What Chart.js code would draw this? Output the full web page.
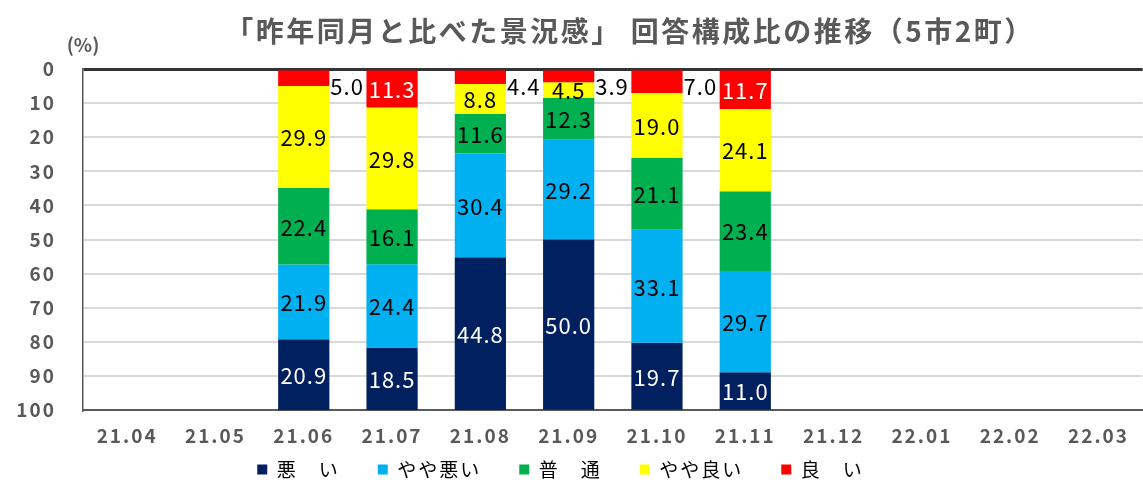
<!DOCTYPE html>
<html>
<head>
<meta charset="utf-8">
<script src="https://cdn.jsdelivr.net/npm/chart.js@4/dist/chart.umd.min.js"></script>
<style>
  html, body { margin: 0; padding: 0; background: #fff; }
  #wrap { width: 1143px; height: 485px; }
</style>
</head>
<body>
<div id="wrap"><canvas id="c"></canvas></div>
<script>
// months on the x axis
let months = ["21.04", "21.05", "21.06", "21.07", "21.08", "21.09", "21.10", "21.11", "21.12", "22.01", "22.02", "22.03"];

// answer shares (%) per month, null = no survey yet
let good     = [null, null, 5.0, 11.3, 4.4, 3.9, 7.0, 11.7, null, null, null, null];
let ratherGd = [null, null, 29.9, 29.8, 8.8, 4.5, 19.0, 24.1, null, null, null, null];
let normal   = [null, null, 22.4, 16.1, 11.6, 12.3, 21.1, 23.4, null, null, null, null];
let ratherBd = [null, null, 21.9, 24.4, 30.4, 29.2, 33.1, 29.7, null, null, null, null];
let bad      = [null, null, 20.9, 18.5, 44.8, 50.0, 19.7, 11.0, null, null, null, null];

let yTicks = [0, 10, 20, 30, 40, 50, 60, 70, 80, 90, 100];

let titleText = "「昨年同月と比べた景況感」 回答構成比の推移（5市2町）";

const GRAY = "#595959";

//! wider letter spacing for ticks and legend, like the original
const spacing = {
  id: "spacing",
  beforeLayout(chart) { chart.ctx.letterSpacing = "2px"; },
  beforeDraw(chart) { chart.ctx.letterSpacing = "2px"; }
};

//! labels on the bars, small "good" values go outside right
const barLabels = {
  id: "barLabels",
  afterDatasetsDraw(chart) {
    const ctx = chart.ctx;
    ctx.save();
    ctx.font = "22px 'Noto Sans CJK JP'";
    ctx.letterSpacing = "1px";
    ctx.textBaseline = "middle";
    chart.data.datasets.forEach((ds, i) => {
      const meta = chart.getDatasetMeta(i);
      meta.data.forEach((el, j) => {
        const v = ds.data[j];
        if (v === null) return;
        const txt = v.toFixed(1);
        const top = Math.min(el.y, el.base);
        const mid = (el.y + el.base) / 2;
        if (i === 0 && v < 10) {
          ctx.fillStyle = "#000";
          ctx.textAlign = "left";
          ctx.fillText(txt, el.x + el.width / 2 + 1, top + 16);
        } else {
          ctx.fillStyle = ds.labelColor;
          ctx.textAlign = "center";
          ctx.fillText(txt, el.x, mid + 1);
        }
      });
    });
    ctx.restore();
  }
};

//! title and unit text
const headText = {
  id: "headText",
  afterDraw(chart) {
    const ctx = chart.ctx;
    ctx.save();
    ctx.fillStyle = GRAY;
    ctx.textBaseline = "middle";
    ctx.textAlign = "center";
    ctx.font = "bold 28px 'Noto Sans CJK JP'";
    ctx.letterSpacing = "2.5px";
    ctx.fillText(titleText, 630, 31);
    ctx.font = "bold 19px 'Noto Sans CJK JP'";
    ctx.letterSpacing = "0px";
    ctx.fillText("(%)", chart.chartArea.left, 45);
    ctx.restore();
  }
};

//! legend is kept short so the plot gets its height, then placed by hand
const legendPlace = {
  id: "legendPlace",
  afterLayout(chart) {
    const lg = chart.legend;
    lg.top = 422;
    lg.bottom = 485;
    lg.height = 63;
    lg.left -= 11;
    lg.right -= 11;
  }
};

let ctxBar = document.getElementById("c").getContext("2d");

let myChart = new Chart(ctxBar, {
  type: "bar",
  data: {
    labels: months,
    datasets: [
      { label: "良　い", data: good, backgroundColor: "#ff0000", labelColor: "#fff" },
      { label: "やや良い", data: ratherGd, backgroundColor: "#ffff00", labelColor: "#000" },
      { label: "普　通", data: normal, backgroundColor: "#00b050", labelColor: "#000" },
      { label: "やや悪い", data: ratherBd, backgroundColor: "#00b0f0", labelColor: "#000" },
      { label: "悪　い", data: bad, backgroundColor: "#002060", labelColor: "#fff" }
    ]
  },
  options: {
    responsive: true,
    maintainAspectRatio: false,
    animation: false,
    layout: { padding: { top: 69, left: 0, right: 0, bottom: 0 } },
    datasets: { bar: { barPercentage: 0.58, categoryPercentage: 1, stack: "s" } },
    scales: {
      x: {
        stacked: true,
        grid: { display: false, drawTicks: false },
        border: { display: true, color: "#595959", width: 2 },
        ticks: {
          color: GRAY,
          padding: 14,
          font: { family: "'Noto Sans CJK JP'", size: 19, weight: "bold" }
        }
      },
      y: {
        stacked: true,
        reverse: true,
        min: 0,
        max: 100,
        afterFit: (scale) => { scale.width = 83; },
        afterBuildTicks: (scale) => { scale.ticks = yTicks.map((v) => ({ value: v })); },
        grid: {
          drawTicks: false,
          color: (c) => (c.tick && c.tick.value === 0 ? "#333" : c.tick && c.tick.value === 100 ? "#595959" : "#d9d9d9"),
          lineWidth: (c) => (c.tick && c.tick.value === 0 ? 3 : 2)
        },
        border: { display: true, color: "#595959", width: 1.5 },
        ticks: {
          color: GRAY,
          padding: 27,
          font: { family: "'Noto Sans CJK JP'", size: 19, weight: "bold" }
        }
      }
    },
    plugins: {
      title: { display: false },
      tooltip: { enabled: false },
      legend: {
        position: "bottom",
        reverse: true,
        maxHeight: 24,
        labels: {
          color: "#000",
          boxWidth: 10,
          boxHeight: 10,
          padding: 38,
          font: { family: "'Noto Sans CJK JP'", size: 19 }
        }
      }
    }
  },
  plugins: [spacing, barLabels, headText, legendPlace]
});
</script>
</body>
</html>
